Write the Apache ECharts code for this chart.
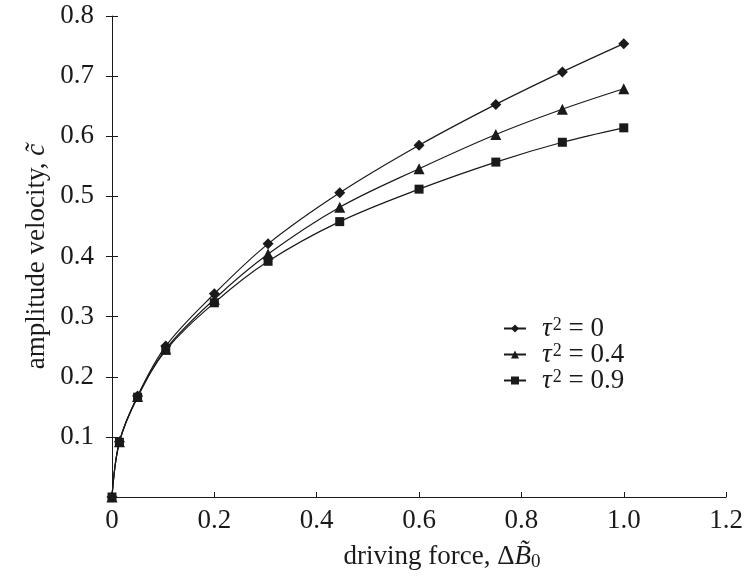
<!DOCTYPE html>
<html><head><meta charset="utf-8">
<script src="https://cdn.jsdelivr.net/npm/echarts@6/dist/echarts.min.js"></script>
<style>html,body{margin:0;padding:0;background:#fff}#c{width:746px;height:587px}</style>
</head><body><div id="c"></div>
<script>
const xValues = [0, 0.0145, 0.05, 0.105, 0.2, 0.305, 0.445, 0.6, 0.75, 0.88, 1.0];
const tau0 = [0, 0.092, 0.168, 0.251, 0.338, 0.421, 0.506, 0.585, 0.653, 0.707, 0.754];
const tau04 = [0, 0.092, 0.167, 0.246, 0.329, 0.404, 0.482, 0.546, 0.603, 0.645, 0.679];
const tau09 = [0, 0.091, 0.166, 0.244, 0.323, 0.392, 0.458, 0.512, 0.557, 0.590, 0.614];
const seriesNames = ['τ2 = 0', 'τ2 = 0.4', 'τ2 = 0.9'];
const xTicks = [0, 0.2, 0.4, 0.6, 0.8, 1.0, 1.2];
const yTicks = [0.1, 0.2, 0.3, 0.4, 0.5, 0.6, 0.7, 0.8];

const FONT = '"Liberation Serif", "DejaVu Serif", serif';
const INK = '#1a1a1a';
const FS = 27;
const chart = echarts.init(document.getElementById('c'));
const pair = ys => xValues.map((x, i) => [x, ys[i]]);
const mk = (name, data, symbol, size) => ({
  name, type: 'line', data: pair(data), smooth: 0.35,
  symbol, symbolSize: size,
  lineStyle: {color: INK, width: 1.2},
  itemStyle: {color: INK},
  emphasis: {disabled: true}
});
chart.setOption({
  animation: false,
  grid: {left: 112, right: 18, top: 16, bottom: 90, containLabel: false},
  legend: {
    left: 498, top: 310, orient: 'vertical', itemGap: -1,
    itemWidth: 22, itemHeight: 10,
    data: seriesNames,
    formatter: n => {
      const parts = n.split(' = ');
      return '{i|τ}{s|2}{t| = ' + parts[1] + '}';
    },
    textStyle: {
      height: 24, lineHeight: 24,
      rich: {
        i: {fontFamily: FONT, fontStyle: 'italic', fontSize: FS, color: INK, padding: [0, 0, 0, 11], lineHeight: 24},
        s: {fontFamily: FONT, fontSize: 18, color: INK, verticalAlign: 'top', padding: [0, 0, 0, 1], lineHeight: 14},
        t: {fontFamily: FONT, fontSize: FS, color: INK, lineHeight: 24}
      }
    }
  },
  xAxis: {
    type: 'value', min: 0, max: 1.2, interval: 0.2,
    name: '{t|driving force, Δ}{i|B̃}{s|0}',
    nameLocation: 'middle', nameGap: 44, nameMoveOverlap: false,
    nameTextStyle: {
      padding: [0, 0, 0, 46],
      rich: {
        t: {fontFamily: FONT, fontSize: FS, color: INK},
        i: {fontFamily: FONT, fontStyle: 'italic', fontSize: FS, color: INK},
        s: {fontFamily: FONT, fontSize: 19, color: INK, verticalAlign: 'bottom', padding: [12, 0, 0, 0]}
      }
    },
    axisLine: {lineStyle: {color: INK, width: 1}},
    axisTick: {inside: true, length: 5, lineStyle: {color: INK}},
    splitLine: {show: false},
    axisLabel: {
      fontFamily: FONT, fontSize: FS, color: INK, margin: 10,
      customValues: xTicks,
      formatter: v => v === 0 ? '0' : v.toFixed(1)
    }
  },
  yAxis: [{
    type: 'value', min: 0, max: 0.8, interval: 0.1,
    name: '{t|amplitude velocity, }{i|c̃}',
    nameLocation: 'middle', nameGap: 62, nameRotate: 90, nameMoveOverlap: false,
    nameTextStyle: {
      rich: {
        t: {fontFamily: FONT, fontSize: FS, color: INK},
        i: {fontFamily: FONT, fontStyle: 'italic', fontSize: FS, color: INK}
      }
    },
    axisLine: {show: true, lineStyle: {color: INK, width: 1}},
    axisTick: {inside: true, length: 6, lineStyle: {color: INK}},
    splitLine: {show: false},
    axisLabel: {
      fontFamily: FONT, fontSize: FS, color: INK, margin: 18,
      customValues: yTicks,
      formatter: v => v.toFixed(1)
    }
  }, {
    type: 'value', min: 0, max: 0.8, interval: 0.1, position: 'left',
    axisLine: {show: false},
    axisTick: {show: true, inside: false, length: 6, lineStyle: {color: INK}, customValues: yTicks},
    axisLabel: {show: false},
    splitLine: {show: false}
  }],
  series: [
    mk(seriesNames[0], tau0, 'diamond', 11),
    mk(seriesNames[1], tau04, 'triangle', 11),
    mk(seriesNames[2], tau09, 'rect', 9)
  ]
});
</script></body></html>
